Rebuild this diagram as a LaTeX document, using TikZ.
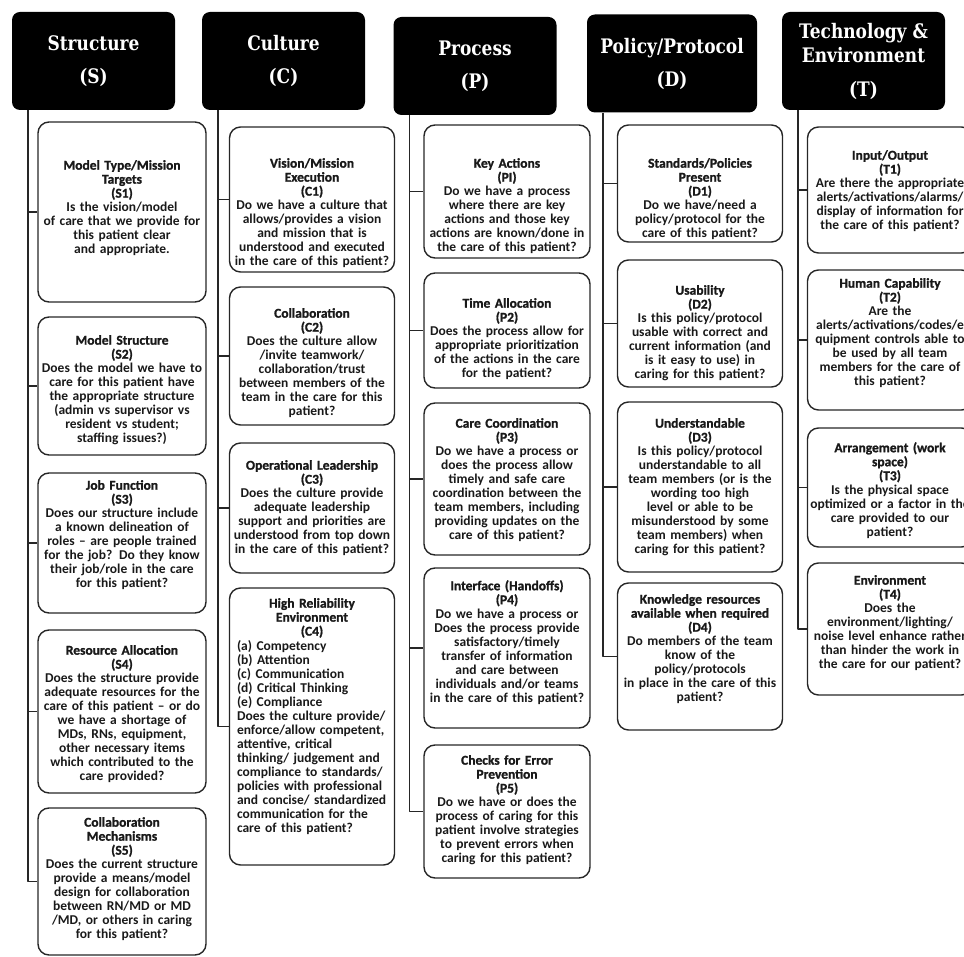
\documentclass[tikz,border=0pt]{standalone}
\usepackage{fontspec}
\setmainfont{Carlito}
\newfontfamily\ttlfont[BoldFeatures={FakeBold=1.2}]{Carlito}
\newfontfamily\hdfont[FakeStretch=0.85]{DejaVu Serif}
\usepackage{tikz}
\usetikzlibrary{calc}
\tikzset{hd/.style={fill=black,rounded corners=8pt,text=white,minimum width=163pt,minimum height=98pt,align=center,inner sep=0pt,font=\hdfont\bfseries\fontsize{20}{24}\selectfont}}
\tikzset{bx/.style={draw=black!85,line width=1.4pt,rounded corners=11pt,minimum width=166pt}}
\tikzset{tx/.style={anchor=north,inner sep=0pt,text width=162pt,align=center,text=black!90,font=\fontsize{13.5}{14}\selectfont\bfseries}}
\tikzset{ln/.style={draw=black!85,line width=1.4pt}}

\begin{document}
\begin{tikzpicture}[line join=round,x=1pt,y=-1pt]
  \clip (0,0) rectangle (964,957);
  % headers
  \node[hd] (S) at (93.5,61) {Structure\\[9pt](S)};
  \node[hd] (C) at (283.5,61) {Culture\\[9pt](C)};
  \node[hd] (P) at (475,66) {Process\\[9pt](P)};
  \node[hd,minimum width=170pt] (D) at (672,63.5) {Policy/Protocol\\[9pt](D)};
  \node[hd] (T) at (863.5,61) {Technology \&\\Environment\\[10pt](T)};
  \coordinate (s) at ([xshift=16pt]S.south west);
  \coordinate (c) at ([xshift=16pt]C.south west);
  \coordinate (p) at ([xshift=16pt]P.south west);
  \coordinate (d) at ([xshift=16pt]D.south west);
  \coordinate (t) at ([xshift=16pt]T.south west);

  % structure
  \node[bx,minimum width=168pt,minimum height=180pt] (S1) at (122,212) {};
  \node[tx] (S1t) at (122,160) {{\ttlfont Model Type/Mission\\Targets\\(S1)}\\Is the vision/model\\of care that we provide for\\this patient clear\\and appropriate.};
  \node[bx,minimum width=168pt,minimum height=138pt] (S2) at (122,386) {};
  \node[tx] (S2t) at (122,335) {{\ttlfont Model Structure\\(S2)}\\Does the model we have to\\care for this patient have\\the appropriate structure\\(admin vs supervisor vs\\resident vs student;\\staffing issues?)};
  \node[bx,minimum width=168pt,minimum height=140pt] (S3) at (122,543) {};
  \node[tx] (S3t) at (122,480) {{\ttlfont Job Function\\(S3)}\\Does our structure include\\a known delineation of\\roles -- are people trained\\for the job? Do they know\\their job/role in the care\\for this patient?};
  \node[bx,minimum width=168pt,minimum height=163pt] (S4) at (122,711.5) {};
  \node[tx] (S4t) at (122,645) {{\ttlfont Resource Allocation\\(S4)}\\Does the structure provide\\adequate resources for the\\care of this patient -- or do\\we have a shortage of\\MDs, RNs, equipment,\\other necessary items\\which contributed to the\\care provided?};
  \node[bx,minimum width=168pt,minimum height=147pt] (S5) at (122,881.5) {};
  \node[tx] (S5t) at (122,817) {{\ttlfont Collaboration\\Mechanisms\\(S5)}\\Does the current structure\\provide a means/model\\design for collaboration\\between RN/MD or MD\\/MD, or others in caring\\for this patient?};
  \draw[ln] (s) |- (S5.west);
  \draw[ln] (s |- S1.west) -- (S1.west);
  \draw[ln] (s |- S2.west) -- (S2.west);
  \draw[ln] (s |- S3.west) -- (S3.west);
  \draw[ln] (s |- S4.west) -- (S4.west);

  % culture
  \node[bx,minimum width=165pt,minimum height=145pt] (C1) at (312,199.5) {};
  \node[tx] (C1t) at (312,158) {{\ttlfont Vision/Mission\\Execution\\(C1)}\\Do we have a culture that\\allows/provides a vision\\and mission that is\\understood and executed\\in the care of this patient?};
  \node[bx,minimum width=165pt,minimum height=138pt] (C2) at (312,356) {};
  \node[tx] (C2t) at (312,308) {{\ttlfont Collaboration\\(C2)}\\Does the culture allow\\/invite teamwork/\\collaboration/trust\\between members of the\\team in the care for this\\patient?};
  \node[bx,minimum width=165pt,minimum height=130pt] (C3) at (312,508) {};
  \node[tx] (C3t) at (312,460) {{\ttlfont Operational Leadership\\(C3)}\\Does the culture provide\\adequate leadership\\support and priorities are\\understood from top down\\in the care of this patient?};
  \node[bx,minimum width=165pt,minimum height=277pt] (C4) at (312,726.5) {};
  \node[tx] (C4t) at (312,598) {{\ttlfont High Reliability\\Environment\\(C4)}};
  \node[tx,text width=156pt,align=left] (C4b) at (315,640) {(a) Competency\\(b) Attention\\(c) Communication\\(d) Critical Thinking\\(e) Compliance\\Does the culture provide/\\enforce/allow competent,\\attentive, critical\\thinking/ judgement and\\compliance to standards/\\policies with professional\\and concise/ standardized\\communication for the\\care of this patient?};
  \draw[ln] (c) |- (C4.west);
  \draw[ln] (c |- C1.west) -- (C1.west);
  \draw[ln] (c |- C2.west) -- (C2.west);
  \draw[ln] (c |- C3.west) -- (C3.west);

  % process
  \node[bx,minimum height=133pt] (P1) at (507,191.5) {};
  \node[tx] (P1t) at (507,158) {{\ttlfont Key Actions\\(PI)}\\Do we have a process\\where there are key\\actions and those key\\actions are known/done in\\the care of this patient?};
  \node[bx,minimum height=115pt] (P2) at (507,330.5) {};
  \node[tx] (P2t) at (507,298) {{\ttlfont Time Allocation\\(P2)}\\Does the process allow for\\appropriate prioritization\\of the actions in the care\\for the patient?};
  \node[bx,minimum height=152pt] (P3) at (507,479) {};
  \node[tx] (P3t) at (507,418) {{\ttlfont Care Coordination\\(P3)}\\Do we have a process or\\does the process allow\\timely and safe care\\coordination between the\\team members, including\\providing updates on the\\care of this patient?};
  \node[bx,minimum height=160pt] (P4) at (507,648) {};
  \node[tx] (P4t) at (507,580) {{\ttlfont Interface (Handoffs)\\(P4)}\\Do we have a process or\\Does the process provide\\satisfactory/timely\\transfer of information\\and care between\\individuals and/or teams\\in the care of this patient?};
  \node[bx,minimum height=133pt] (P5) at (507,811.5) {};
  \node[tx] (P5t) at (507,755) {{\ttlfont Checks for Error\\Prevention\\(P5)}\\Do we have or does the\\process of caring for this\\patient involve strategies\\to prevent errors when\\caring for this patient?};
  \draw[ln] (p) |- (P5.west);
  \draw[ln] (p |- P1.west) -- (P1.west);
  \draw[ln] (p |- P2.west) -- (P2.west);
  \draw[ln] (p |- P3.west) -- (P3.west);
  \draw[ln] (p |- P4.west) -- (P4.west);

  % policy/protocol
  \node[bx,minimum width=165pt,minimum height=117pt] (D1) at (700,183.5) {};
  \node[tx] (D1t) at (700,158) {{\ttlfont Standards/Policies\\Present\\(D1)}\\Do we have/need a\\policy/protocol for the\\care of this patient?};
  \node[bx,minimum width=165pt,minimum height=127pt] (D2) at (700,323.5) {};
  \node[tx] (D2t) at (700,285) {{\ttlfont Usability\\(D2)}\\Is this policy/protocol\\usable with correct and\\current information (and\\is it easy to use) in\\caring for this patient?};
  \node[bx,minimum width=165pt,minimum height=170pt] (D3) at (700,487) {};
  \node[tx] (D3t) at (700,418) {{\ttlfont Understandable\\(D3)}\\Is this policy/protocol\\understandable to all\\team members (or is the\\wording too high\\level or able to be\\misunderstood by some\\team members) when\\caring for this patient?};
  \node[bx,minimum width=165pt,minimum height=147pt] (D4) at (700,656.5) {};
  \node[tx] (D4t) at (700,594) {{\ttlfont Knowledge resources\\available when required\\(D4)}\\Do members of the team\\know of the\\policy/protocols\\in place in the care of this\\patient?};
  \draw[ln] (d) |- (D4.west);
  \draw[ln] (d |- D1.west) -- (D1.west);
  \draw[ln] (d |- D2.west) -- (D2.west);
  \draw[ln] (d |- D3.west) -- (D3.west);

  % technology & environment
  \node[bx,minimum width=165pt,minimum height=126pt] (T1) at (890,190) {};
  \node[tx] (T1t) at (890,150) {{\ttlfont Input/Output\\(T1)}\\Are there the appropriate\\alerts/activations/alarms/\\display of information for\\the care of this patient?};
  \node[bx,minimum width=165pt,minimum height=140pt] (T2) at (890,340) {};
  \node[tx] (T2t) at (890,278) {{\ttlfont Human Capability\\(T2)}\\Are the\\alerts/activations/codes/e\\quipment controls able to\\be used by all team\\members for the care of\\this patient?};
  \node[bx,minimum width=165pt,minimum height=119pt] (T3) at (890,487.5) {};
  \node[tx] (T3t) at (890,442) {{\ttlfont Arrangement (work\\space)\\(T3)}\\Is the physical space\\optimized or a factor in the\\care provided to our\\patient?};
  \node[bx,minimum width=165pt,minimum height=132pt] (T4) at (890,629) {};
  \node[tx] (T4t) at (890,575) {{\ttlfont Environment\\(T4)}\\Does the\\environment/lighting/\\noise level enhance rather\\than hinder the work in\\the care for our patient?};
  \draw[ln] (t) |- (T4.west);
  \draw[ln] (t |- T1.west) -- (T1.west);
  \draw[ln] (t |- T2.west) -- (T2.west);
  \draw[ln] (t |- T3.west) -- (T3.west);
\end{tikzpicture}
\end{document}
